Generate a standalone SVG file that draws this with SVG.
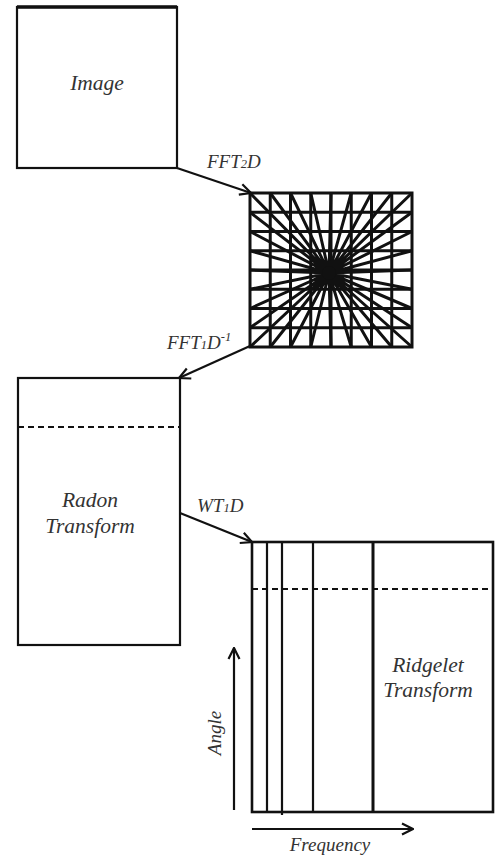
<svg xmlns="http://www.w3.org/2000/svg" width="497" height="857" viewBox="0 0 497 857">
<style>
  .box{fill:#fff;stroke:#111;stroke-width:2.2}
  .ln{stroke:#111;stroke-width:2.2;fill:none}
  .thick{stroke:#111;stroke-width:3;fill:none}
  .dash{stroke:#111;stroke-width:2.2;stroke-dasharray:6 4;fill:none}
  .t{font-family:"Liberation Serif",serif;font-style:italic;fill:#333}
  .big{font-size:21.5px}
  .lab{font-size:19px}
  .sm{font-size:12.5px}
  .conn{stroke:#111;stroke-width:2.2;fill:none;marker-end:url(#ah)}
</style>
<defs>
  <marker id="ah" viewBox="0 0 14 14" refX="13" refY="7" markerWidth="14" markerHeight="14" markerUnits="userSpaceOnUse" orient="auto">
    <path d="M2,1.5 L13,7 L2,12.5" fill="none" stroke="#111" stroke-width="2.2"/>
  </marker>
</defs>
<rect width="497" height="857" fill="#fff"/>

<g id="image">
  <rect class="box" x="17" y="7" width="160" height="161"/>
  <line class="thick" x1="17" y1="7" x2="177" y2="7" style="stroke-width:3.5"/>
  <text class="t big" x="97" y="90" text-anchor="middle">Image</text>
</g>

<g id="fourier">
  <rect x="250" y="193" width="162" height="154" fill="#fff" stroke="#111" stroke-width="3"/>
  <path class="thick" d="M270.25,193V347M290.5,193V347M310.75,193V347M331,193V347M351.25,193V347M371.5,193V347M391.75,193V347
  M250,212.25H412M250,231.5H412M250,250.75H412M250,270H412M250,289.25H412M250,308.5H412M250,327.75H412"/>
  <path class="thick" d="M329,273L250,193M329,273L270.25,193M329,273L290.5,193M329,273L310.75,193M329,273L331,193M329,273L351.25,193M329,273L371.5,193M329,273L391.75,193M329,273L412,193
  M329,273L250,347M329,273L270.25,347M329,273L290.5,347M329,273L310.75,347M329,273L331,347M329,273L351.25,347M329,273L371.5,347M329,273L391.75,347M329,273L412,347
  M329,273L250,212.25M329,273L250,231.5M329,273L250,250.75M329,273L250,270M329,273L250,289.25M329,273L250,308.5M329,273L250,327.75
  M329,273L412,212.25M329,273L412,231.5M329,273L412,250.75M329,273L412,270M329,273L412,289.25M329,273L412,308.5M329,273L412,327.75"/>
  <circle cx="329" cy="273" r="7" fill="#111"/>
</g>

<g id="radon">
  <rect class="box" x="18" y="378" width="162" height="267"/>
  <line class="dash" x1="18" y1="427" x2="180" y2="427"/>
  <text class="t big" x="90" y="507" text-anchor="middle">Radon</text>
  <text class="t big" x="90" y="533" text-anchor="middle">Transform</text>
</g>

<g id="ridgelet">
  <rect class="box" x="252" y="542" width="241" height="270" style="stroke-width:2.6"/>
  <line class="dash" x1="252" y1="589" x2="493" y2="589"/>
  <path class="ln" d="M267,542V812M282,542V815M313,542V812"/>
  <line class="thick" x1="373" y1="542" x2="373" y2="812"/>
  <text class="t big" x="428" y="672" text-anchor="middle">Ridgelet</text>
  <text class="t big" x="428" y="697" text-anchor="middle">Transform</text>
</g>

<g id="axes">
  <line class="conn" x1="234" y1="810" x2="234" y2="648"/>
  <text class="t lab" transform="translate(221,733) rotate(-90)" text-anchor="middle">Angle</text>
  <line class="conn" x1="252" y1="829" x2="413" y2="829"/>
  <text class="t lab" x="330" y="851" text-anchor="middle">Frequency</text>
</g>

<g id="connectors">
  <line class="conn" x1="177" y1="168" x2="251" y2="193"/>
  <text class="t lab" x="207" y="168">FFT<tspan class="sm">2</tspan>D</text>
  <line class="conn" x1="250" y1="346" x2="179" y2="378"/>
  <text class="t lab" x="167" y="349">FFT<tspan class="sm">1</tspan>D<tspan class="sm" dy="-8">-1</tspan></text>
  <line class="conn" x1="180" y1="513" x2="252" y2="542"/>
  <text class="t lab" x="197" y="512">WT<tspan class="sm">1</tspan>D</text>
</g>
</svg>
